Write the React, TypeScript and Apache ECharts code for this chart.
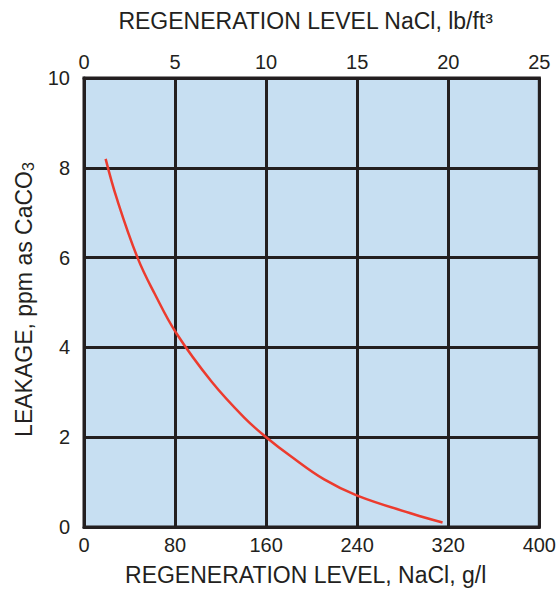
import React, { useEffect, useRef } from "react";
import * as echarts from "echarts";

// Regeneration level NaCl (g/l) vs leakage (ppm as CaCO3)
const regenGL = [19, 29, 47, 62, 81, 112, 141, 160, 182, 211, 240, 289, 315];
const leakagePpm = [8.2, 7.3, 6.0, 5.2, 4.32, 3.24, 2.43, 2.0, 1.57, 1.06, 0.7, 0.29, 0.1];

const bottomTicks = [0, 80, 160, 240, 320, 400];
const topTicks = [0, 5, 10, 15, 20, 25];
const leftTicks = [0, 2, 4, 6, 8, 10];

const INK = "#231f20";
const FONT = "Liberation Sans, Arial, Helvetica, sans-serif";

export default function App() {
  const ref = useRef<HTMLDivElement>(null);
  useEffect(() => {
    if (!ref.current) return;
    const chart = echarts.init(ref.current, undefined, { renderer: "svg" });
    const data = regenGL.map((x, i) => [x, leakagePpm[i]]);
    chart.setOption({
      animation: false,
      textStyle: { fontFamily: FONT, color: INK },
      grid: {
        left: 84,
        top: 78,
        width: 460,
        height: 450,
        show: true,
        backgroundColor: "#c7dff2",
        borderColor: INK,
        borderWidth: 3,
      },
      xAxis: [
        {
          type: "value",
          position: "bottom",
          min: bottomTicks[0],
          max: bottomTicks[bottomTicks.length - 1],
          interval: bottomTicks[1] - bottomTicks[0],
          axisLine: { show: true, lineStyle: { color: INK, width: 3 } },
          axisTick: { show: false },
          splitLine: { show: true, lineStyle: { color: INK, width: 3 } },
          axisLabel: { fontSize: 20, color: INK, fontFamily: FONT, margin: 8 },
          name: "REGENERATION LEVEL, NaCl, g/l",
          nameLocation: "middle",
          nameGap: 36,
          nameTextStyle: { fontSize: 23, color: INK, fontFamily: FONT, padding: [0, 12, 0, 0] },
        },
        {
          type: "value",
          position: "top",
          min: topTicks[0],
          max: topTicks[topTicks.length - 1],
          interval: topTicks[1] - topTicks[0],
          axisLine: { show: true, lineStyle: { color: INK, width: 3 } },
          axisTick: { show: false },
          splitLine: { show: false },
          axisLabel: { fontSize: 20, color: INK, fontFamily: FONT, margin: 6 },
          name: "REGENERATION LEVEL NaCl, lb/ft³",
          nameLocation: "middle",
          nameGap: 46,
          nameTextStyle: { fontSize: 23, color: INK, fontFamily: FONT, padding: [0, 12, 0, 0] },
        },
      ],
      yAxis: {
        type: "value",
        min: leftTicks[0],
        max: leftTicks[leftTicks.length - 1],
        interval: leftTicks[1] - leftTicks[0],
        axisLine: { show: true, lineStyle: { color: INK, width: 3 } },
        axisTick: { show: false },
        splitLine: { show: true, lineStyle: { color: INK, width: 3 } },
        axisLabel: { fontSize: 20, color: INK, fontFamily: FONT, margin: 14 },
        name: "LEAKAGE, ppm as CaCO{s|3}",
        nameLocation: "middle",
        nameRotate: 90,
        nameGap: 47,
        nameTextStyle: {
          fontSize: 23,
          color: INK,
          fontFamily: FONT,
          padding: [0, 0, 0, 6],
          rich: {
            s: { fontSize: 16, color: INK, fontFamily: FONT, verticalAlign: "bottom", padding: [10, 0, 0, 0] },
          },
        },
      },
      series: [
        {
          type: "line",
          data,
          smooth: 0.4,
          showSymbol: false,
          lineStyle: { color: "#ec3b2e", width: 2.5 },
          itemStyle: { color: "#ec3b2e" },
          z: 5,
        },
      ],
    });
    return () => chart.dispose();
  }, []);
  return <div ref={ref} style={{ width: 559, height: 591, position: "absolute", left: 0, top: 0 }} />;
}
